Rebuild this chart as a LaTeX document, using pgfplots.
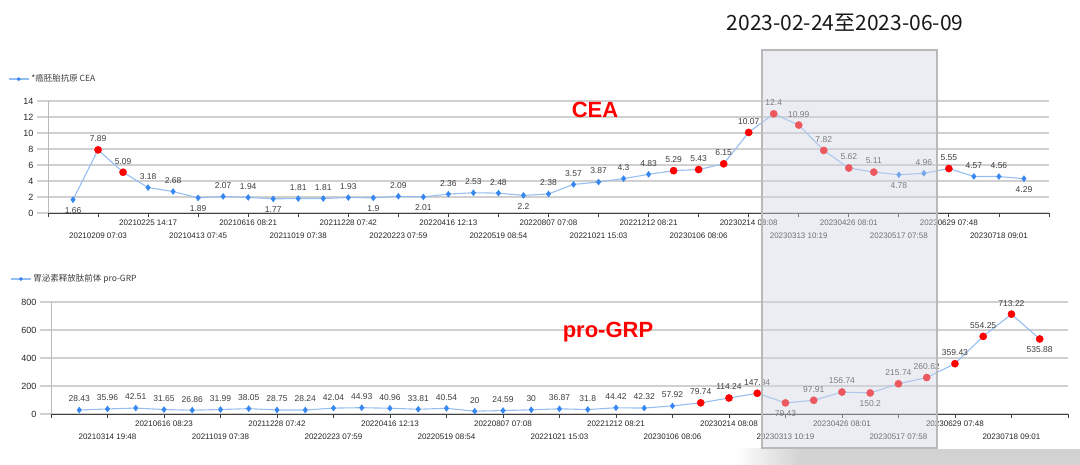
\documentclass[border=0pt]{standalone}
\usepackage{fontspec}
\setmainfont{Liberation Sans}
\newfontfamily\cjk{Noto Sans CJK SC}
\usepackage{pgfplots}
\pgfplotsset{compat=1.18}
\usepackage{pgfplotstable}

\definecolor{lineblue}{RGB}{150,190,240}
\definecolor{ptblue}{RGB}{55,135,240}
\definecolor{ptred}{RGB}{255,0,0}
\definecolor{gridgray}{RGB}{208,208,208}
\definecolor{lblgray}{RGB}{60,60,60}
\definecolor{boxfill}{RGB}{208,213,226}

% CEA: x, value, label side (1 above, -1 below), label text
\pgfplotstableread{
x y s lab
0 1.66 -1 1.66
1 7.89 1 7.89
2 5.09 1 5.09
3 3.18 1 3.18
4 2.68 1 2.68
5 1.89 -1 1.89
6 2.07 1 2.07
7 1.94 1 1.94
8 1.77 -1 1.77
9 1.81 1 1.81
10 1.81 1 1.81
11 1.93 1 1.93
12 1.9 -1 1.9
13 2.09 1 2.09
14 2.01 -1 2.01
15 2.36 1 2.36
16 2.53 1 2.53
17 2.48 1 2.48
18 2.2 -1 2.2
19 2.38 1 2.38
20 3.57 1 3.57
21 3.87 1 3.87
22 4.3 1 4.3
23 4.83 1 4.83
24 5.29 1 5.29
25 5.43 1 5.43
26 6.15 1 6.15
27 10.07 1 10.07
28 12.4 1 12.4
29 10.99 1 10.99
30 7.82 1 7.82
31 5.62 1 5.62
32 5.11 1 5.11
33 4.78 -1 4.78
34 4.96 1 4.96
35 5.55 1 5.55
36 4.57 1 4.57
37 4.56 1 4.56
38 4.29 -1 4.29
}\ceatab

\pgfplotstableread{
x y
1 7.89
2 5.09
24 5.29
25 5.43
26 6.15
27 10.07
28 12.4
29 10.99
30 7.82
31 5.62
32 5.11
35 5.55
}\ceared

\pgfplotstableread{
x y s lab
0 28.43 1 28.43
1 35.96 1 35.96
2 42.51 1 42.51
3 31.65 1 31.65
4 26.86 1 26.86
5 31.99 1 31.99
6 38.05 1 38.05
7 28.75 1 28.75
8 28.24 1 28.24
9 42.04 1 42.04
10 44.93 1 44.93
11 40.96 1 40.96
12 33.81 1 33.81
13 40.54 1 40.54
14 20 1 20
15 24.59 1 24.59
16 30 1 30
17 36.87 1 36.87
18 31.8 1 31.8
19 44.42 1 44.42
20 42.32 1 42.32
21 57.92 1 57.92
22 79.74 1 79.74
23 114.24 1 114.24
24 147.94 1 147.94
25 79.43 -1 79.43
26 97.91 1 97.91
27 156.74 1 156.74
28 150.2 -1 150.2
29 215.74 1 215.74
30 260.62 1 260.62
31 359.43 1 359.43
32 554.25 1 554.25
33 713.22 1 713.22
34 535.88 -1 535.88
}\grptab

\pgfplotstableread{
x y
22 79.74
23 114.24
24 147.94
25 79.43
26 97.91
27 156.74
28 150.2
29 215.74
30 260.62
31 359.43
32 554.25
33 713.22
34 535.88
}\grpred

\pgfplotsset{
  mychart/.style={
    scale only axis, height=112pt,
    axis x line*=bottom, axis y line*=left,
    x axis line style={-, black!75, line width=0.8pt},
    y axis line style={-, gray!55, line width=0.8pt},
    tick align=outside, major tick length=4pt,
    xtick style={black!75, line width=0.8pt},
    ytick style={draw=none},
    ymajorgrids, grid style={gridgray, line width=1.3pt},
    /pgf/number format/assume math mode=true,
    yticklabel style={font=\fontsize{9}{10}\selectfont, text=black!85, xshift=-7pt},
    xticklabel style={font=\fontsize{8}{11}\selectfont, text=black!85, align=center, anchor=north, yshift=1pt},
    clip=false,
    legend style={draw=none, fill=none, inner sep=0pt, font=\cjk\fontsize{8.5}{9}\selectfont, text=lblgray, anchor=west},
    legend image code/.code={\draw[lineblue, line width=1.2pt] (0pt,0pt) -- (20pt,0pt); \fill[ptblue] (10pt,0pt) circle (1.2pt);},
  },
  labplot/.style={
    lineblue, line width=1.1pt,
    mark=diamond*, mark size=3pt, mark options={ptblue, fill=ptblue, line width=0.4pt},
    nodes near coords, point meta=explicit symbolic,
    visualization depends on={\thisrow{s} \as \side},
    every node near coord/.append style={anchor=center, yshift=\side*11pt, font=\fontsize{8.5}{9}\selectfont, text=lblgray},
  },
  redpts/.style={only marks, mark=*, mark size=3.6pt, mark options={ptred, fill=ptred}, forget plot},
}

\begin{document}
\begin{tikzpicture}[x=1pt,y=1pt]
\path[use as bounding box] (0,0) rectangle (1080,465);

% ---------- CEA ----------
\begin{axis}[mychart,
  at={(48pt,252pt)}, anchor=south west, width=1001pt,
  xmin=-1, xmax=39, ymin=0, ymax=14,
  ytick={0,2,...,14},
  xtick={-1,1,...,39},
  xticklabels={,
    {\strut\\20210209 07:03},{20210225 14:17},
    {\strut\\20210413 07:45},{20210616 08:21},
    {\strut\\20211019 07:38},{20211228 07:42},
    {\strut\\20220223 07:59},{20220416 12:13},
    {\strut\\20220519 08:54},{20220807 07:08},
    {\strut\\20221021 15:03},{20221212 08:21},
    {\strut\\20230106 08:06},{20230214 08:08},
    {\strut\\20230313 10:19},{20230426 08:01},
    {\strut\\20230517 07:58},{20230629 07:48},
    {\strut\\20230718 09:01},},
  legend style={at={(-0.04,1.196)}},
]
\pgfplotsinvokeforeach{0,2,4,6,8,10,12,14}{\draw[gridgray, line width=1.3pt] (axis cs:-1,#1) -- ++(-11pt,0pt);}
\addplot[labplot] table[x=x, y=y, meta=lab] {\ceatab};
\addlegendentry{*癌胚胎抗原 CEA}
\addplot[redpts] table[x=x, y=y] {\ceared};
\end{axis}

% ---------- pro-GRP ----------
\begin{axis}[mychart,
  at={(51pt,51pt)}, anchor=south west, width=1017pt,
  xmin=-1, xmax=35, ymin=0, ymax=800,
  ytick={0,200,...,800},
  xtick={-1,1,...,35},
  xticklabels={,
    {\strut\\20210314 19:48},{20210616 08:23},
    {\strut\\20211019 07:38},{20211228 07:42},
    {\strut\\20220223 07:59},{20220416 12:13},
    {\strut\\20220519 08:54},{20220807 07:08},
    {\strut\\20221021 15:03},{20221212 08:21},
    {\strut\\20230106 08:06},{20230214 08:08},
    {\strut\\20230313 10:19},{20230426 08:01},
    {\strut\\20230517 07:58},{20230629 07:48},
    {\strut\\20230718 09:01},},
  legend style={at={(-0.0403,1.205)}},
]
\pgfplotsinvokeforeach{0,200,400,600,800}{\draw[gridgray, line width=1.3pt] (axis cs:-1,#1) -- ++(-11pt,0pt);}
\addplot[labplot] table[x=x, y=y, meta=lab] {\grptab};
\addlegendentry{胃泌素释放肽前体 pro-GRP}
\addplot[redpts] table[x=x, y=y] {\grpred};
\end{axis}

% annotations
\node[anchor=base, text=ptred, font=\bfseries\fontsize{22}{24}\selectfont] at (595,347) {CEA};
\node[anchor=base, text=ptred, font=\bfseries\fontsize{22}{24}\selectfont] at (608,127) {pro-GRP};

\shade[left color=white, right color=gray!35] (735,0) rectangle (800,16);
\fill[gray!35] (800,0) rectangle (1080,16);

\fill[boxfill, fill opacity=0.42] (762,17) rectangle (937,415);
\draw[gray!55, line width=1.6pt] (762,17) rectangle (937,415);
\node[font=\cjk\fontsize{21}{24}\selectfont, text=black!90] at (845,442) {2023-02-24至2023-06-09};
\end{tikzpicture}
\end{document}
